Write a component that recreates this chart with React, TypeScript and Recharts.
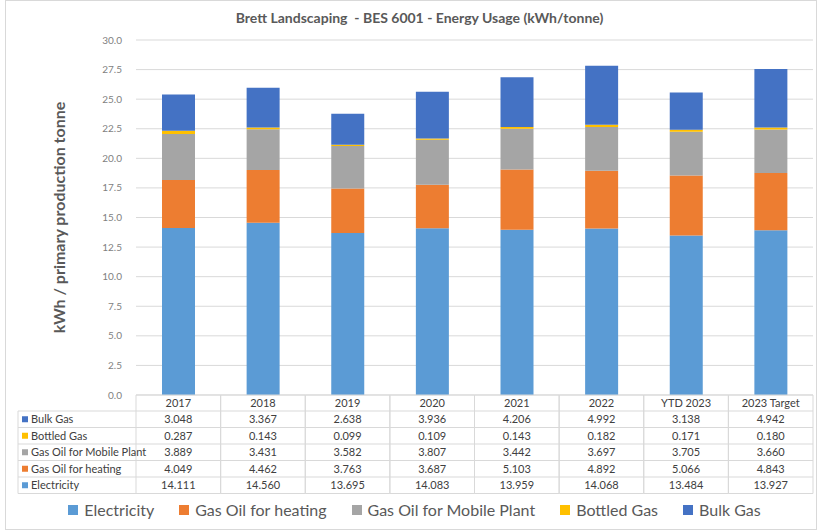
import React from "react";
import { BarChart, Bar, XAxis, YAxis, CartesianGrid } from "recharts";

const categories = ["2017", "2018", "2019", "2020", "2021", "2022", "YTD 2023", "2023 Target"];
const electricity = [14.111, 14.56, 13.695, 14.083, 13.959, 14.068, 13.484, 13.927];
const gasOilHeating = [4.049, 4.462, 3.763, 3.687, 5.103, 4.892, 5.066, 4.843];
const gasOilMobile = [3.889, 3.431, 3.582, 3.807, 3.442, 3.697, 3.705, 3.66];
const bottledGas = [0.287, 0.143, 0.099, 0.109, 0.143, 0.182, 0.171, 0.18];
const bulkGas = [3.048, 3.367, 2.638, 3.936, 4.206, 4.992, 3.138, 4.942];
const yTicks = [0, 2.5, 5, 7.5, 10, 12.5, 15, 17.5, 20, 22.5, 25, 27.5, 30];

const series = [
  { key: "electricity", name: "Electricity", color: "#5B9BD5", values: electricity },
  { key: "heating", name: "Gas Oil for heating", color: "#ED7D31", values: gasOilHeating },
  { key: "mobile", name: "Gas Oil for Mobile Plant", color: "#A5A5A5", values: gasOilMobile },
  { key: "bottled", name: "Bottled Gas", color: "#FFC000", values: bottledGas },
  { key: "bulk", name: "Bulk Gas", color: "#4472C4", values: bulkGas },
];
const tableOrder = ["bulk", "bottled", "mobile", "heating", "electricity"];

const data = categories.map((c, i) => {
  const row: any = { category: c };
  series.forEach((s) => (row[s.key] = s.values[i]));
  return row;
});

const W = 819;
const H = 532;
const PLOT_LEFT = 136;
const PLOT_RIGHT = 813;
const PLOT_TOP = 40;
const PLOT_BOTTOM = 395;
const BAND = (PLOT_RIGHT - PLOT_LEFT) / categories.length;
const HEADER_H = 16;
const ROW_H = 16.5;
const LABEL_LEFT = 18;
const FONT = "Lato, 'Open Sans', sans-serif";
const BORDER = "#D9D9D9";
const TEXT = "#404040";

const TableTick = (props: any) => {
  const { x, payload, index } = props;
  const left = x - BAND / 2;
  const right = x + BAND / 2;
  const top = PLOT_BOTTOM;
  const bottom = top + HEADER_H + ROW_H * tableOrder.length;
  const els: any[] = [];
  els.push(
    <text key="h" x={x} y={top + HEADER_H / 2 + 4} textAnchor="middle" fontSize={11} fill={TEXT} fontFamily={FONT}>
      {payload.value}
    </text>
  );
  els.push(<line key="vl" x1={left} x2={left} y1={top} y2={bottom} stroke={BORDER} />);
  els.push(<line key="vr" x1={right} x2={right} y1={top} y2={bottom} stroke={BORDER} />);
  els.push(<line key="ht" x1={left} x2={right} y1={top} y2={top} stroke={BORDER} />);
  tableOrder.forEach((k, r) => {
    const s = series.find((q) => q.key === k)!;
    const rowTop = top + HEADER_H + r * ROW_H;
    els.push(<line key={"hl" + r} x1={left} x2={right} y1={rowTop} y2={rowTop} stroke={BORDER} />);
    els.push(
      <text key={"t" + r} x={x} y={rowTop + ROW_H / 2 + 4} textAnchor="middle" fontSize={11} fill={TEXT} fontFamily={FONT}>
        {s.values[index].toFixed(3)}
      </text>
    );
  });
  els.push(<line key="hb" x1={left} x2={right} y1={bottom} y2={bottom} stroke={BORDER} />);
  if (index === 0) {
    const labTop = top + HEADER_H;
    els.push(<line key="ll" x1={LABEL_LEFT} x2={LABEL_LEFT} y1={labTop} y2={bottom} stroke={BORDER} />);
    tableOrder.forEach((k, r) => {
      const s = series.find((q) => q.key === k)!;
      const rowTop = labTop + r * ROW_H;
      els.push(<line key={"ll" + r} x1={LABEL_LEFT} x2={left} y1={rowTop} y2={rowTop} stroke={BORDER} />);
      els.push(<rect key={"lr" + r} x={LABEL_LEFT + 4} y={rowTop + ROW_H / 2 - 3} width={6} height={6} fill={s.color} />);
      els.push(
        <text key={"lt" + r} x={LABEL_LEFT + 13} y={rowTop + ROW_H / 2 + 4} fontSize={11} fill={TEXT} fontFamily={FONT}>
          {s.name}
        </text>
      );
    });
    els.push(<line key="llb" x1={LABEL_LEFT} x2={left} y1={bottom} y2={bottom} stroke={BORDER} />);
  }
  return <g>{els}</g>;
};

export default function App() {
  return (
    <div style={{ position: "absolute", left: 0, top: 0, width: W, height: H, background: "#fff", fontFamily: FONT }}>
      <div
        style={{
          position: "absolute",
          left: 5,
          top: 0,
          width: 812,
          height: 530,
          border: "1px solid #D9D9D9",
          boxSizing: "border-box",
        }}
      />
      <div
        style={{
          position: "absolute",
          left: 10,
          width: W,
          top: 9,
          textAlign: "center",
          fontSize: 14,
          fontWeight: 700,
          color: "#595959",
          whiteSpace: "pre",
        }}
      >
        {"Brett Landscaping  - BES 6001 - Energy Usage (kWh/tonne)"}
      </div>
      <BarChart
        width={W}
        height={H}
        data={data}
        margin={{ top: PLOT_TOP, right: W - PLOT_RIGHT, left: 0, bottom: 0 }}
        style={{ position: "absolute", left: 0, top: 0 }}
      >
        <CartesianGrid vertical={false} stroke="#D9D9D9" />
        <YAxis
          width={PLOT_LEFT}
          domain={[0, 30]}
          ticks={yTicks}
          tickFormatter={(v: number) => v.toFixed(1)}
          axisLine={false}
          tickLine={false}
          tickMargin={8}
          tick={{ fontSize: 10, fill: "#7F7F7F", fontFamily: FONT }}
          label={{
            value: "kWh / primary production tonne",
            angle: -90,
            position: "insideLeft",
            dx: 54,
            dy: 0,
            style: { textAnchor: "middle", fontSize: 16, fontWeight: 700, fill: "#595959", fontFamily: FONT },
          }}
        />
        <XAxis
          dataKey="category"
          axisLine={false}
          tickLine={false}
          height={H - PLOT_BOTTOM}
          interval={0}
          tick={<TableTick />}
        />
        {series.map((s) => (
          <Bar key={s.key} dataKey={s.key} name={s.name} stackId="a" fill={s.color} barSize={33} isAnimationActive={false} />
        ))}
      </BarChart>
      <div
        style={{
          position: "absolute",
          left: 0,
          width: W,
          top: 500,
          display: "flex",
          justifyContent: "center",
          gap: 25,
          fontSize: 16,
          color: "#595959",
          paddingLeft: 10,
          boxSizing: "border-box",
        }}
      >
        {series.map((s) => (
          <div key={s.key} style={{ display: "flex", alignItems: "center" }}>
            <span style={{ display: "inline-block", width: 10, height: 10, background: s.color, marginRight: 6 }} />
            {s.name}
          </div>
        ))}
      </div>
    </div>
  );
}
